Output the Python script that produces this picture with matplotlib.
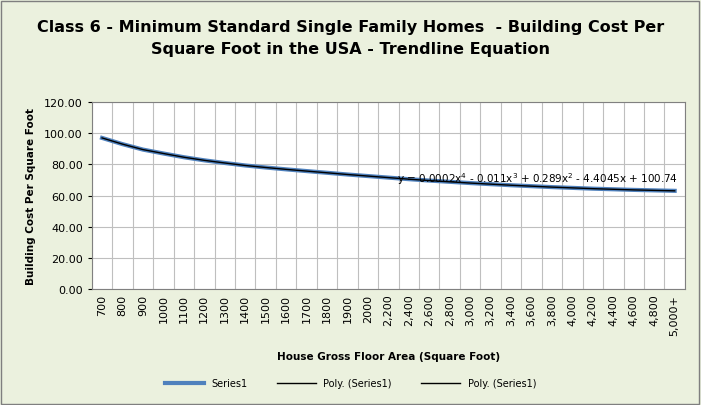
import matplotlib.pyplot as plt
from matplotlib.patches import Rectangle

areas = ["700", "800", "900", "1000", "1100", "1200", "1300", "1400", "1500", "1600",
         "1700", "1800", "1900", "2000", "2,200", "2,400", "2,600", "2,800", "3,000",
         "3,200", "3,400", "3,600", "3,800", "4,000", "4,200", "4,400", "4,600", "4,800", "5,000+"]
cost = [97.0, 93.0, 89.5, 87.0, 84.6, 82.6, 80.9, 79.3, 78.0, 76.8, 75.7, 74.6, 73.5, 72.5,
        71.5, 70.5, 69.6, 68.8, 68.0, 67.3, 66.6, 66.0, 65.4, 64.9, 64.4, 64.0, 63.6, 63.3, 63.0]

fig = plt.figure(figsize=(7.01, 4.06), dpi=100)
fig.patch.set_facecolor("#EBF1DE")
fig.patches.append(Rectangle((0.002, 0.003), 0.995, 0.993, transform=fig.transFigure,
                             fill=False, edgecolor="#7F7F7F", linewidth=1))
ax = fig.add_axes([0.131, 0.286, 0.846, 0.46])
x = list(range(len(areas)))
ax.plot(x, cost, color="#4F81BD", linewidth=3, label="Series1")
ax.plot(x, cost, color="black", linewidth=1, label="Poly. (Series1)")
ax.plot([], [], color="black", linewidth=1, label="Poly. (Series1)")
ax.set_xlim(-0.5, len(areas) - 0.5)
ax.set_ylim(0, 120)
ax.set_yticks(range(0, 121, 20))
ax.set_yticklabels([f"{v:.2f}" for v in range(0, 121, 20)], fontsize=8)
ax.set_xticks(x)
ax.set_xticklabels(areas, rotation=90, fontsize=8)
ax.set_xticks([i - 0.5 for i in range(len(areas) + 1)], minor=True)
ax.grid(True, which="minor", axis="x", color="#BFBFBF", linewidth=0.8)
ax.grid(True, which="major", axis="y", color="#BFBFBF", linewidth=0.8)
ax.tick_params(axis="x", which="both", length=0)
ax.tick_params(axis="y", length=3)
for s in ax.spines.values():
    s.set_color("#808080")
ax.text(14.4, 66.0, r"y = 0.0002x$^4$ - 0.011x$^3$ + 0.289x$^2$ - 4.4045x + 100.74",
        fontsize=7.5, va="bottom")
ax.set_xlabel("House Gross Floor Area (Square Foot)", fontsize=7.5, fontweight="bold", labelpad=12)
ax.set_ylabel("Building Cost Per Square Foot", fontsize=7.5, fontweight="bold", labelpad=6)
fig.text(0.5, 0.905, "Class 6 - Minimum Standard Single Family Homes  - Building Cost Per\nSquare Foot in the USA - Trendline Equation",
         ha="center", va="center", fontsize=11.5, fontweight="bold", linespacing=1.6)
fig.legend(loc="lower center", bbox_to_anchor=(0.5, 0.02), ncol=3, frameon=False, fontsize=7,
           handlelength=4, columnspacing=3)
fig.savefig("out.png", facecolor=fig.get_facecolor())
